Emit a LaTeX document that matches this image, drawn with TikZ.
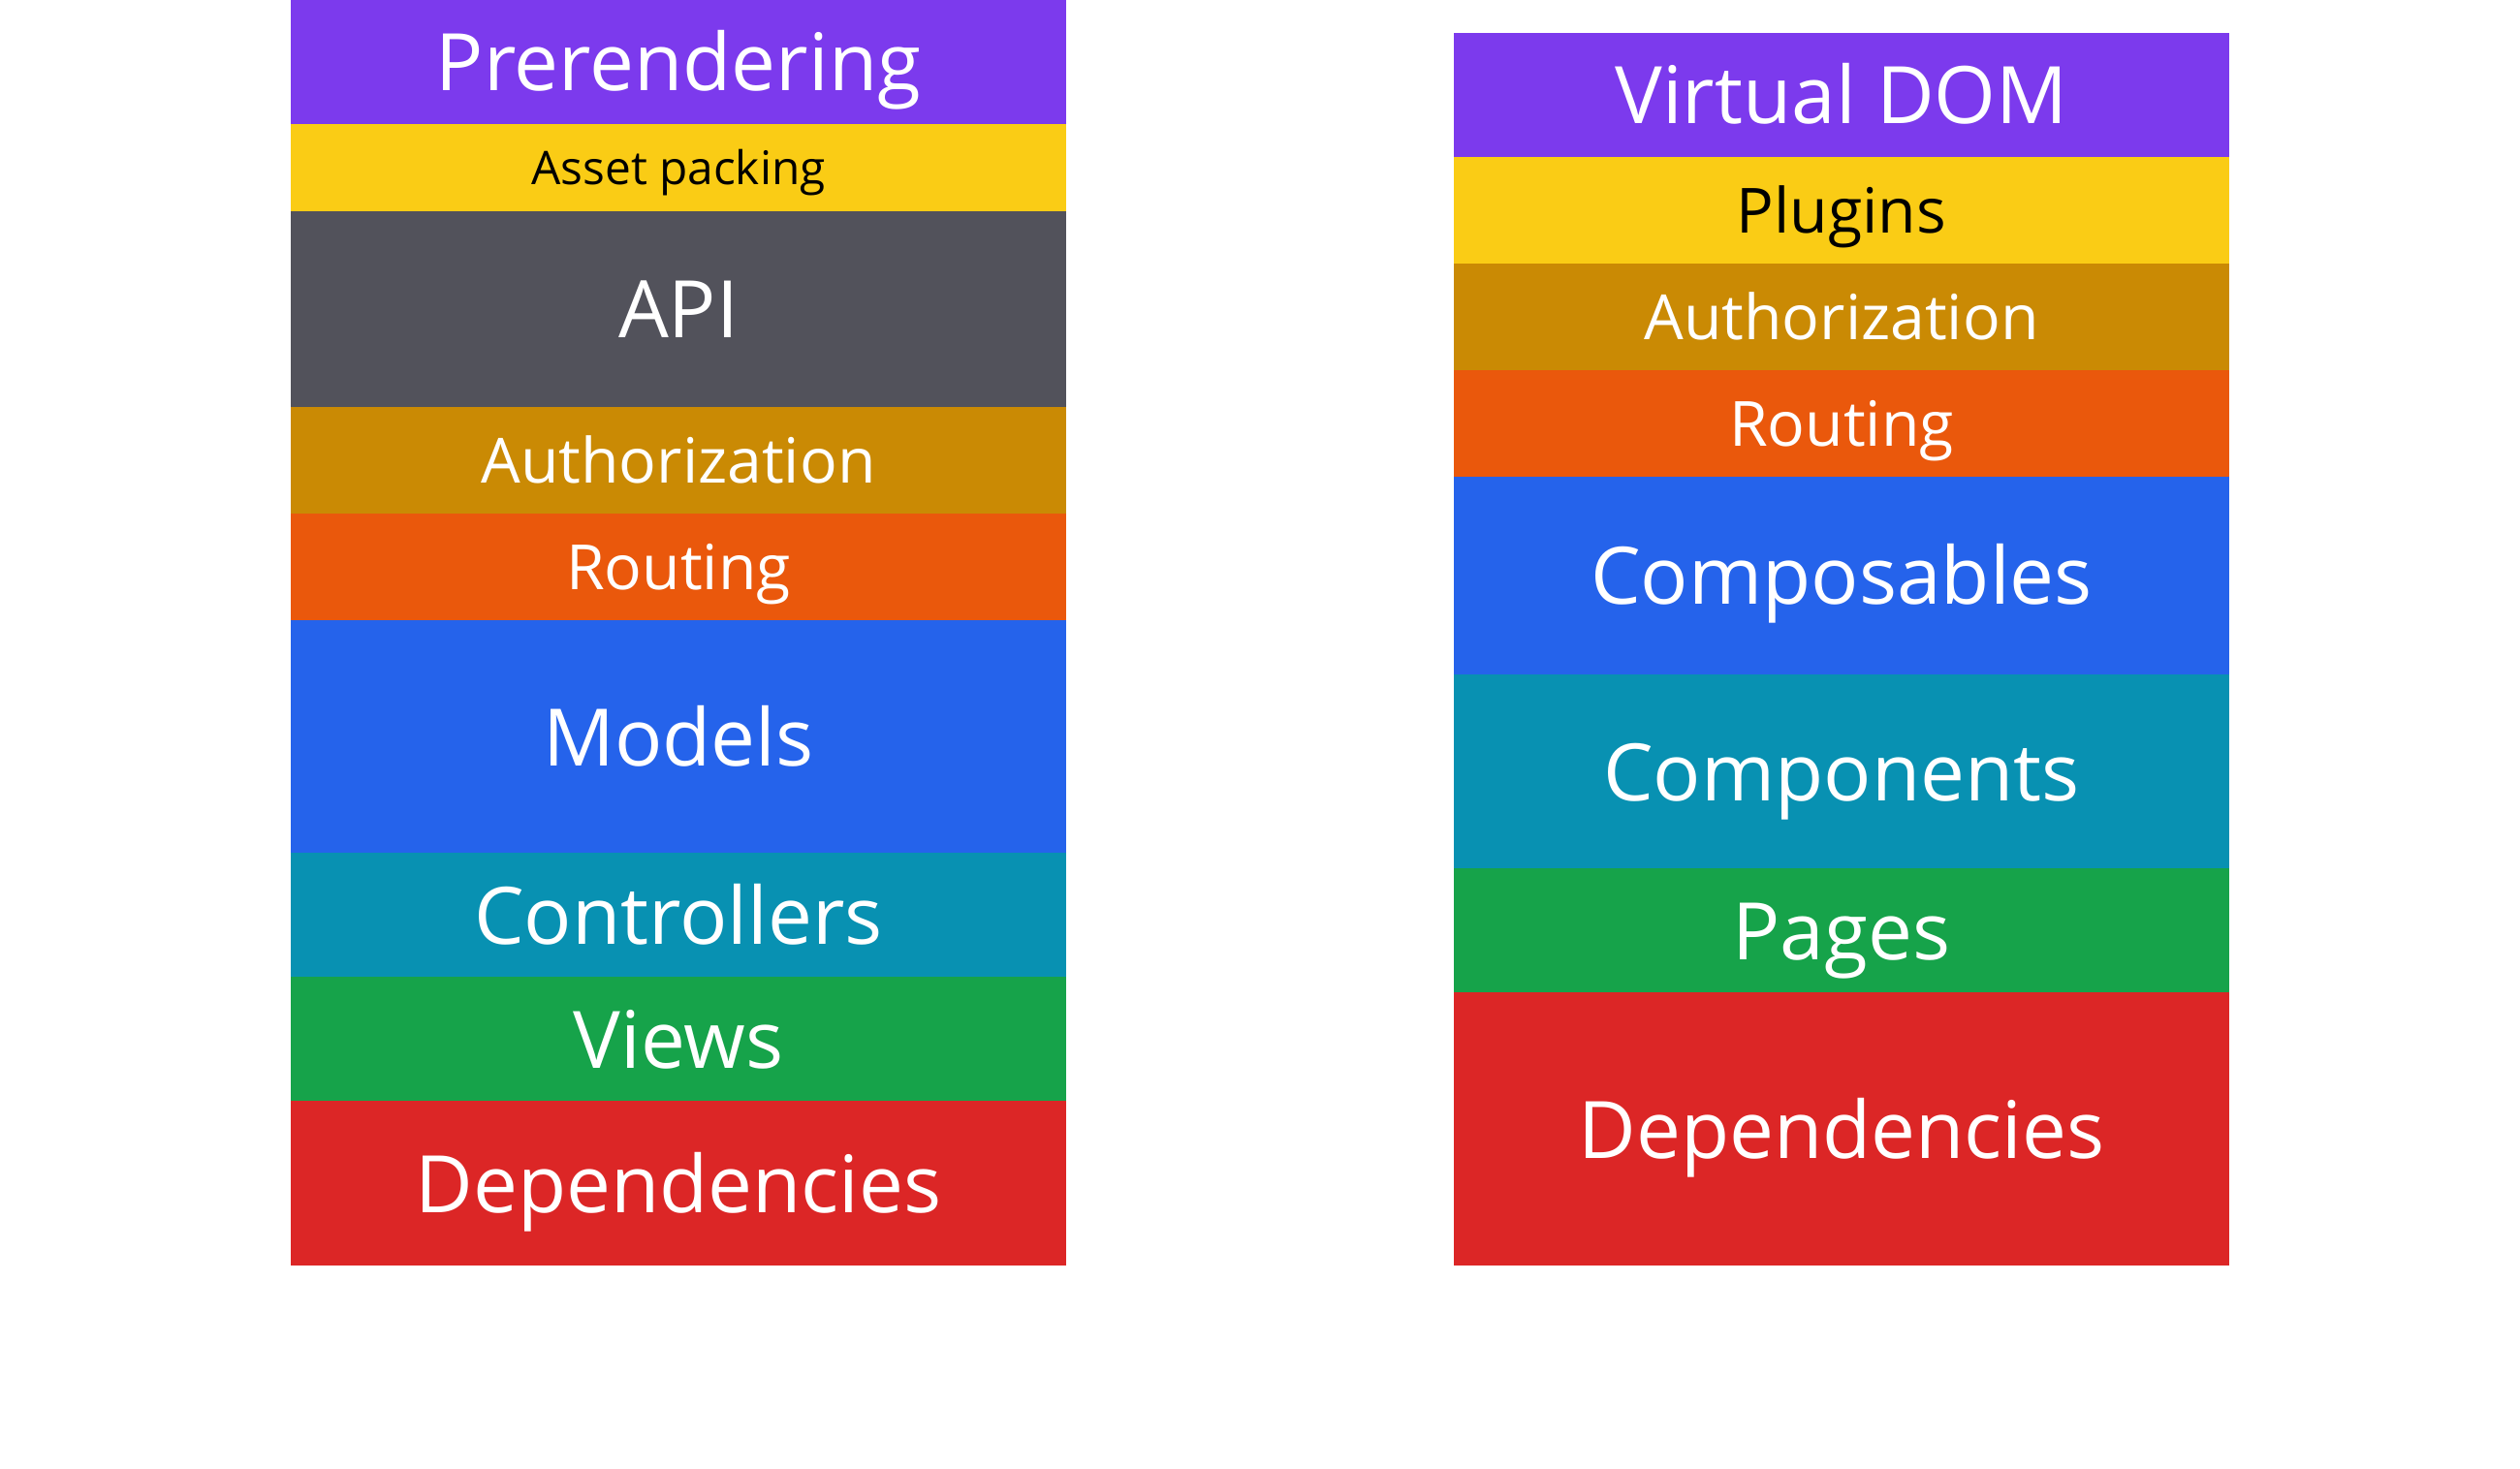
\documentclass[tikz,border=0pt]{standalone}
\usepackage{fontspec}
\setmainfont{Open Sans}
\definecolor{Violet}{RGB}{124, 58, 237}
\definecolor{Amber}{RGB}{250, 204, 21}
\definecolor{Slate}{RGB}{82, 82, 91}
\definecolor{Ochre}{RGB}{202, 138, 4}
\definecolor{Tangerine}{RGB}{234, 88, 12}
\definecolor{Azure}{RGB}{37, 99, 235}
\definecolor{Teal}{RGB}{8, 145, 178}
\definecolor{Leaf}{RGB}{22, 163, 74}
\definecolor{Scarlet}{RGB}{220, 38, 38}
\usetikzlibrary{positioning}

\tikzset{
    layer/.style={rectangle, minimum width=8cm, inner sep=0pt, outer sep=0pt, text=white, align=center},
    bigtext/.style={font=\fontsize{23.3}{28}\selectfont, text height=0.6cm, text depth=0pt},
    midtext/.style={font=\fontsize{18.3}{22}\selectfont, text height=0.47cm, text depth=0pt},
    smalltext/.style={font=\fontsize{13.6}{16}\selectfont, text height=0.35cm, text depth=0pt}
}

\begin{document}
\begin{tikzpicture}
        \fill[white] (0,0) rectangle (26,-15.16);
        \useasboundingbox (0,0) rectangle (26,-15.16);

        % Left stack
        \node[layer, bigtext, fill=Violet, minimum height=1.28cm, anchor=north west] (prerender) at (3,0) {Prerendering};
        \node[layer, smalltext, fill=Amber, text=black, minimum height=0.9cm, below=0pt of prerender] (assets) {Asset packing};
        \node[layer, bigtext, fill=Slate, minimum height=2.02cm, below=0pt of assets] (api) {API};
        \node[layer, midtext, fill=Ochre, minimum height=1.1cm, below=0pt of api] (authL) {Authorization};
        \node[layer, midtext, fill=Tangerine, minimum height=1.1cm, below=0pt of authL] (routeL) {Routing};
        \node[layer, bigtext, fill=Azure, minimum height=2.4cm, below=0pt of routeL] (models) {Models};
        \node[layer, bigtext, fill=Teal, minimum height=1.28cm, below=0pt of models] (controllers) {Controllers};
        \node[layer, bigtext, fill=Leaf, minimum height=1.28cm, below=0pt of controllers] (views) {Views};
        \node[layer, bigtext, fill=Scarlet, minimum height=1.7cm, below=0pt of views] (depsL) {Dependencies};

        % Right stack
        \node[layer, bigtext, fill=Violet, minimum height=1.28cm, anchor=north west] (vdom) at (15,-0.34) {Virtual DOM};
        \node[layer, midtext, fill=Amber, text=black, minimum height=1.1cm, below=0pt of vdom] (plugins) {Plugins};
        \node[layer, midtext, fill=Ochre, minimum height=1.1cm, below=0pt of plugins] (authR) {Authorization};
        \node[layer, midtext, fill=Tangerine, minimum height=1.1cm, below=0pt of authR] (routeR) {Routing};
        \node[layer, bigtext, fill=Azure, minimum height=2.04cm, below=0pt of routeR] (composables) {Composables};
        \node[layer, bigtext, fill=Teal, minimum height=2.0cm, below=0pt of composables] (components) {Components};
        \node[layer, bigtext, fill=Leaf, minimum height=1.28cm, below=0pt of components] (pages) {Pages};
        \node[layer, bigtext, fill=Scarlet, minimum height=2.82cm, below=0pt of pages] (depsR) {Dependencies};
    \end{tikzpicture}
\end{document}
